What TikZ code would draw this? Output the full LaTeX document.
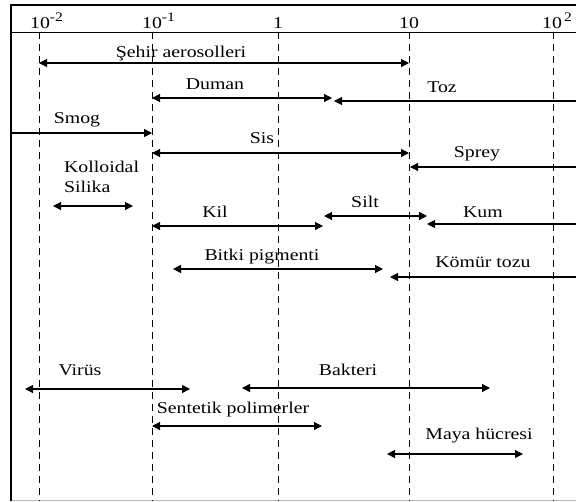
\documentclass[tikz,border=0pt]{standalone}
\usepackage{fontspec}
\setmainfont[FakeStretch=1.2]{Liberation Serif}
\usetikzlibrary{arrows.meta}
\begin{document}
\begin{tikzpicture}[x=1pt,y=-1pt,
  >={Triangle[length=8pt,width=8pt]},
  lab/.style={font=\fontsize{16.5}{20}\selectfont, inner sep=0pt, anchor=base},
  ticklab/.style={font=\fontsize{16.5}{20}\selectfont, inner sep=0pt, anchor=base},
  gridline/.style={line width=1pt, dash pattern=on 7pt off 5pt},
  rng/.style={line width=1.1pt},
  frame/.style={line width=2pt}]
\useasboundingbox (0,0) rectangle (576,501);
% frame
\coordinate (fbl) at (11,501);
\coordinate (ftl) at (11,5);
\coordinate (ftr) at (576,5);
\coordinate (hl) at (11,32);
\coordinate (hr) at (576,32);
\coordinate (bl) at (11,500);
\coordinate (br) at (576,500);
\draw[gray!55, line width=1pt] (bl) -- (br);
\draw[line width=1pt] (hl) -- (hr);
\draw[frame] (fbl) -- (ftl) -- (ftr);
% grid lines
\foreach \n/\x in {a/39,b/152,c/278,d/409,e/553}{
  \coordinate (g\n t) at (\x,32);
  \coordinate (g\n b) at (\x,501);
  \draw[gridline] (g\n t) -- (g\n b);
}
% tick labels
\node[ticklab] (t1) at (40,28) {10\rlap{\raisebox{7pt}{\fontsize{13}{13}\selectfont -2}}};
\node[ticklab] (t2) at (152,28) {10\rlap{\raisebox{7pt}{\fontsize{13}{13}\selectfont -1}}};
\node[ticklab] (t3) at (278,28) {1};
\node[ticklab] (t4) at (409,28) {10};
\node[ticklab] (t5) at (552,28) {10\rlap{\raisebox{7pt}{\fontsize{13}{13}\selectfont\,2}}};
% ranges
\coordinate (s1a) at (39,63);  \coordinate (s1b) at (409,63);
\draw[rng,<->] (s1a) -- (s1b);
\node[lab] (l1) at (181,57) {Şehir aerosolleri};

\coordinate (s2a) at (152,98); \coordinate (s2b) at (332,98);
\draw[rng,<->] (s2a) -- (s2b);
\node[lab] (l2) at (215,89) {Duman};

\coordinate (s3a) at (334,101); \coordinate (s3b) at (576,101);
\draw[rng,<-] (s3a) -- (s3b);
\node[lab] (l3) at (442,92) {Toz};

\coordinate (s4a) at (11,133); \coordinate (s4b) at (152,133);
\draw[rng,->] (s4a) -- (s4b);
\node[lab] (l4) at (77,123) {Smog};

\coordinate (s5a) at (152,153); \coordinate (s5b) at (409,153);
\draw[rng,<->] (s5a) -- (s5b);
\node[lab] (l5) at (262,143) {Sis};

\coordinate (s6a) at (410,167); \coordinate (s6b) at (576,167);
\draw[rng,<-] (s6a) -- (s6b);
\node[lab] (l6) at (477,157) {Sprey};

\coordinate (s7a) at (53,206); \coordinate (s7b) at (133,206);
\draw[rng,<->] (s7a) -- (s7b);
\node[lab,anchor=base west,align=left] (l7) at (64,192) {Kolloidal\\Silika};

\coordinate (s8a) at (152,226); \coordinate (s8b) at (323,226);
\draw[rng,<->] (s8a) -- (s8b);
\node[lab] (l8) at (215,217) {Kil};

\coordinate (s9a) at (324,216); \coordinate (s9b) at (427,216);
\draw[rng,<->] (s9a) -- (s9b);
\node[lab] (l9) at (365,207) {Silt};

\coordinate (s10a) at (427,224); \coordinate (s10b) at (576,224);
\draw[rng,<-] (s10a) -- (s10b);
\node[lab] (l10) at (483,217) {Kum};

\coordinate (s11a) at (173,269); \coordinate (s11b) at (383,269);
\draw[rng,<->] (s11a) -- (s11b);
\node[lab] (l11) at (262,260) {Bitki pigmenti};

\coordinate (s12a) at (390,277); \coordinate (s12b) at (576,277);
\draw[rng,<-] (s12a) -- (s12b);
\node[lab] (l12) at (483,267) {Kömür tozu};

\coordinate (s13a) at (25,389); \coordinate (s13b) at (190,389);
\draw[rng,<->] (s13a) -- (s13b);
\node[lab] (l13) at (80,375) {Virüs};

\coordinate (s14a) at (242,388); \coordinate (s14b) at (490,388);
\draw[rng,<->] (s14a) -- (s14b);
\node[lab] (l14) at (348,375) {Bakteri};

\coordinate (s15a) at (152,426); \coordinate (s15b) at (322,426);
\draw[rng,<->] (s15a) -- (s15b);
\node[lab] (l15) at (233,413) {Sentetik polimerler};

\coordinate (s16a) at (387,454); \coordinate (s16b) at (523,454);
\draw[rng,<->] (s16a) -- (s16b);
\node[lab] (l16) at (479,439) {Maya hücresi};
\end{tikzpicture}
\end{document}
